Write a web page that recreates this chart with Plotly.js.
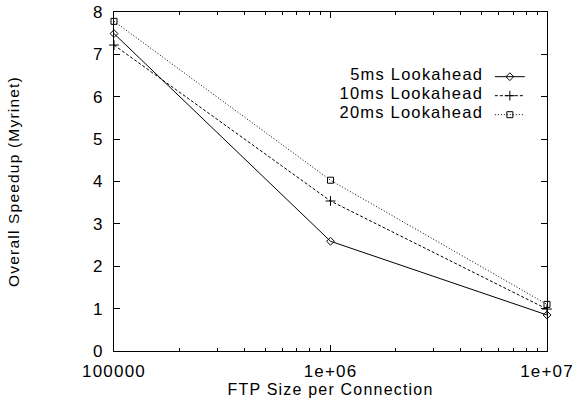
<!DOCTYPE html>
<html>
<head>
<meta charset="utf-8">
<script src="https://cdn.plot.ly/plotly-3.0.1.min.js"></script>
<style>
html, body { margin: 0; padding: 0; background: #fff; }
#chart { width: 574px; height: 402px; }
.main-svg text { letter-spacing: 1.2px; }
</style>
</head>
<body>
<div id="chart"></div>
<script>
// FTP size per connection (bytes)
const ftpSizes = [100000, 1000000, 10000000];
// Overall speedup (Myrinet) for each lookahead
const speedup5ms  = [7.49, 2.59, 0.85];
const speedup10ms = [7.22, 3.54, 0.99];
const speedup20ms = [7.78, 4.03, 1.10];
const seriesNames = ['5ms Lookahead', '10ms Lookahead', '20ms Lookahead'];
// Axis tick labels
const xTickVals = [100000, 1000000, 10000000];
const xTickText = ['100000', '1e+06', '1e+07'];
const yTickVals = [0, 1, 2, 3, 4, 5, 6, 7, 8];

const FONT = 'Liberation Sans, Arial, Helvetica, sans-serif';

function mk(y, name, dash, symbol, size) {
  return {
    x: ftpSizes, y: y, name: name, type: 'scatter', mode: 'lines+markers',
    line: {color: '#000', width: 1, dash: dash},
    marker: {symbol: symbol, size: size, color: '#000', line: {color: '#000', width: 1}},
    cliponaxis: false
  };
}

const traces = [
  mk(speedup5ms, seriesNames[0], 'solid', 'diamond-open', 6),
  mk(speedup10ms, seriesNames[1], '3px,2px', 'cross-thin-open', 7),
  mk(speedup20ms, seriesNames[2], '1px,2px', 'square-open', 6)
];

const layout = {
  width: 574, height: 402,
  margin: {l: 114, r: 27, t: 12, b: 51, autoexpand: false},
  paper_bgcolor: '#fff', plot_bgcolor: '#fff',
  font: {family: FONT, size: 16, color: '#000'},
  showlegend: true,
  legend: {
    x: 0.868, y: 0.852, xanchor: 'left', yanchor: 'top',
    bgcolor: 'rgba(0,0,0,0)', borderwidth: 0,
    font: {family: FONT, size: 1, color: 'rgba(0,0,0,0)'},
    tracegroupgap: 0
  },
  xaxis: {
    type: 'log', range: [5, 7],
    tickmode: 'array', tickvals: xTickVals, ticktext: xTickText,
    ticks: 'inside', ticklen: 6, tickwidth: 1, tickcolor: '#000',
    minor: {dtick: 'D1', ticks: 'inside', ticklen: 3, tickwidth: 1, tickcolor: '#000', showgrid: false},
    showline: true, linecolor: '#000', linewidth: 1, mirror: 'allticks',
    showgrid: false, zeroline: false,
    tickfont: {family: FONT, size: 17, color: '#000'},
    ticklabelstandoff: 5,
    title: {text: 'FTP Size per Connection', font: {family: FONT, size: 16, color: '#000'}, standoff: 3}
  },
  yaxis: {
    range: [0, 8],
    tickmode: 'array', tickvals: yTickVals,
    ticks: 'inside', ticklen: 6, tickwidth: 1, tickcolor: '#000',
    showline: true, linecolor: '#000', linewidth: 1, mirror: 'allticks',
    showgrid: false, zeroline: false,
    tickfont: {family: FONT, size: 17, color: '#000'},
    ticklabelstandoff: 6,
    title: {text: 'Overall Speedup (Myrinet)', font: {family: FONT, size: 15.5, color: '#000'}, standoff: 70}
  },
  annotations: seriesNames.map((n, i) => ({
    xref: 'paper', yref: 'paper', x: 0.838, y: [0.816, 0.762, 0.706][i],
    xanchor: 'right', yanchor: 'middle', showarrow: false, text: n,
    font: {family: FONT, size: 16.5, color: '#000'}
  }))
};

Plotly.newPlot('chart', traces, layout, {displayModeBar: false, staticPlot: true});
</script>
</body>
</html>
